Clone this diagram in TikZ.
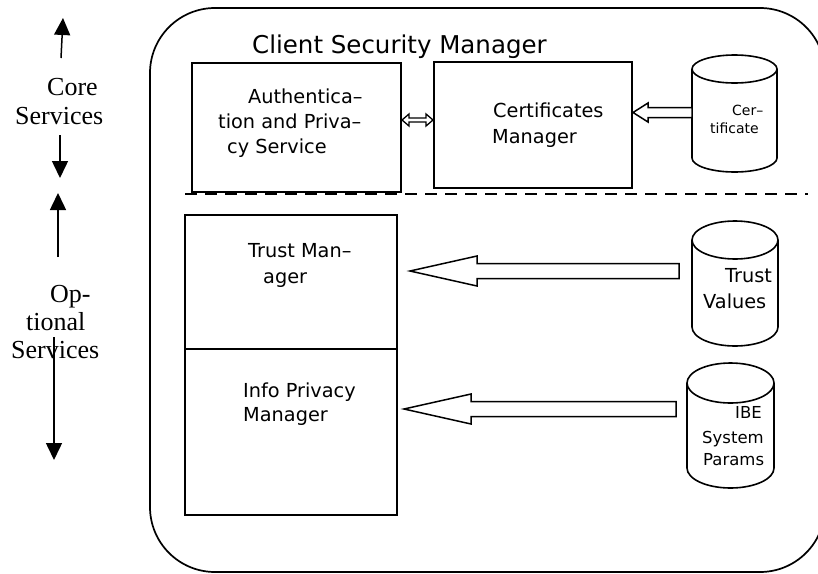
\documentclass[tikz,border=0pt]{standalone}
\usepackage{fontspec}
\setmainfont{Liberation Serif}
\newfontfamily\labelfont{DejaVu Sans}
\usetikzlibrary{arrows.meta,calc}

% cylinder: centre x, top y, bottom y, x radius, y radius
\newcommand\drum[5]{%
  \draw[dbline] (#1-#4,#2+#5) -- (#1-#4,#3-#5)
    arc[start angle=180, end angle=0, x radius=#4, y radius=#5] -- (#1+#4,#2+#5);
  \draw[dbline] (#1,#2+#5) ellipse [x radius=#4, y radius=#5];}

% hollow block arrow: tip, tail, head length, head half-width, shaft half-width
\newcommand\blockarrow[5]{%
  \draw[hollow] let \p1=(#1), \p2=(#2) in
    (\p1) -- (\x1+#3pt,\y1+#4pt) -- (\x1+#3pt,\y1+#5pt) -- (\x2,\y1+#5pt)
    -- (\x2,\y1-#5pt) -- (\x1+#3pt,\y1-#5pt) -- (\x1+#3pt,\y1-#4pt) -- cycle;}

\begin{document}
\begin{tikzpicture}[x=1pt,y=-1pt,
  frame/.style={draw, line width=1.7pt},
  box/.style={draw, line width=1.7pt, inner sep=0pt, outer sep=0pt, anchor=north west},
  dbline/.style={line width=1.6pt},
  hollow/.style={draw, line width=1.5pt, line join=miter, fill=white},
  side/.style={line width=1.5pt, -{Triangle[width=16pt,length=17pt]}},
  sidetext/.style={anchor=base west, inner sep=0pt, font=\fontsize{26}{30}\selectfont},
  boxtext/.style={anchor=base west, inner sep=0pt, font=\labelfont\fontsize{19.3}{24}\selectfont},
  title/.style={anchor=base west, inner sep=0pt, font=\labelfont\fontsize{24.5}{28}\selectfont},
]
\useasboundingbox (0,0) rectangle (818,573);
\fill[white] (0,0) rectangle (818,573);
\clip (0,0) rectangle (818,573);

% outer container
\draw[frame, rounded corners=65pt] (150,8) rectangle (825,572);
\node[title] (csm) at (252,53) {Client Security Manager};

% core services
\node[box, minimum width=209pt, minimum height=129pt] (auth) at (192,63) {};
\node[box, minimum width=198pt, minimum height=126pt] (certmgr) at (434,62) {};
\node[boxtext] (auth1) at (248,103) {Authentica–};
\node[boxtext] (auth2) at (218,128) {tion and Priva–};
\node[boxtext] (auth3) at (227,153) {cy Service};
\node[boxtext] (cm1) at (493,117) {Certificates};
\node[boxtext] (cm2) at (492,143) {Manager};

% separator between core and optional services
\draw[line width=2pt, dash pattern=on 12pt off 8pt] (185,194) -- (808,194);

% optional services
\node[box, minimum width=212pt, minimum height=134pt] (trust) at (185,215) {};
\node[box, minimum width=212pt, minimum height=166pt] (info) at (185,349) {};
\node[boxtext] (tm1) at (248,257) {Trust Man–};
\node[boxtext] (tm2) at (263,283) {ager};
\node[boxtext] (ip1) at (243,397) {Info Privacy};
\node[boxtext] (ip2) at (243,421) {Manager};

% data stores
\drum{734.5}{55}{172}{42.5}{14}
\node[boxtext, font=\labelfont\fontsize{14}{17}\selectfont] (cdb1) at (732,115) {Cer–};
\node[boxtext, font=\labelfont\fontsize{14}{17}\selectfont] (cdb2) at (710,133) {tificate};

\drum{735}{221}{346}{43}{19}
\node[boxtext] (tdb1) at (725,282) {Trust};
\node[boxtext] (tdb2) at (703,308) {Values};

\drum{730.5}{363}{488}{43.5}{20}
\node[boxtext, anchor=base east, font=\labelfont\fontsize{16.5}{20}\selectfont] (idb1) at (762,418) {IBE};
\node[boxtext, font=\labelfont\fontsize{16.5}{20}\selectfont] (idb2) at (702,443) {System};
\node[boxtext, font=\labelfont\fontsize{16.5}{20}\selectfont] (idb3) at (703,465) {Params};

% data flows
\coordinate (ctip) at (633,112.5);  \coordinate (ctail) at (692,112.5);
\coordinate (ttip) at (410,271);    \coordinate (ttail) at (679,271);
\coordinate (itip) at (404,409);    \coordinate (itail) at (676,409);
\blockarrow{ctip}{ctail}{15}{9.5}{5}
\blockarrow{ttip}{ttail}{67}{15}{7.5}
\blockarrow{itip}{itail}{67}{15}{7.5}

% two-way link between authentication and certificates
\draw[hollow, line width=1.3pt]
  let \p1=(auth.east), \p2=(certmgr.west) in
  (\x1+1pt,-120pt) -- (\x1+8pt,-114pt) -- (\x1+8pt,-118pt) -- (\x2-8pt,-118pt)
  -- (\x2-8pt,-114pt) -- (\x2-1pt,-120pt) -- (\x2-8pt,-126pt) -- (\x2-8pt,-122pt)
  -- (\x1+8pt,-122pt) -- (\x1+8pt,-126pt) -- cycle;

% side labels and extents
\node[sidetext] (core1) at (47,95) {Core};
\node[sidetext] (core2) at (15,124) {Services};
\node[sidetext] (opt1) at (50,302) {Op-};
\node[sidetext] (opt2) at (26,330) {tional};
\node[sidetext] (opt3) at (11,358) {Services};

\coordinate (a1s) at (61,58);  \coordinate (a1e) at (63,18);
\coordinate (a2s) at (60,135); \coordinate (a2e) at (60,178);
\coordinate (a3s) at (58,257); \coordinate (a3e) at (58,193);
\coordinate (a4s) at (54,337); \coordinate (a4e) at (54,460);
\draw[side] (a1s) -- (a1e);
\draw[side] (a2s) -- (a2e);
\draw[side] (a3s) -- (a3e);
\draw[side] (a4s) -- (a4e);
\end{tikzpicture}
\end{document}
